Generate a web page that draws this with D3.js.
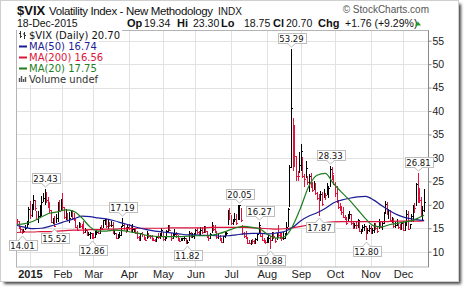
<!DOCTYPE html>
<html>
<head>
<meta charset="utf-8">
<script src="https://cdn.jsdelivr.net/npm/d3@7"></script>
<style>
  body { margin: 0; background: #fff; }
  svg { display: block; }
</style>
</head>
<body>
<div id="chart"></div>
<script>
// $VIX daily bars, 19-Dec-2014 .. 18-Dec-2015
var high = [
  // Dec 2014
  17.0,16.6,15.4,14.9,14.9,15.6,16.5,19.5,
  // Jan
  20.9,20.1,22.0,21.1,18.7,18.7,20.0,21.9,22.5,23.43,22.8,21.7,20.5,19.0,17.2,17.7,18.0,20.5,21.1,21.3,
  // Feb
  22.5,19.6,19.2,18.3,18.4,19.0,18.8,18.3,16.8,15.6,16.4,16.1,16.0,16.6,15.0,14.6,14.1,14.2,14.0,
  // Mar
  13.9,14.4,14.6,14.4,15.3,15.6,16.8,17.0,16.7,17.0,16.3,16.5,16.3,14.6,14.0,13.7,14.1,15.5,17.19,16.2,15.2,15.6,
  // Apr
  16.0,15.5,16.0,15.0,14.9,14.4,13.3,14.0,14.3,13.6,13.2,14.4,13.9,13.5,13.5,13.0,12.7,13.4,13.9,13.9,15.1,
  // May
  14.3,13.2,14.6,15.7,15.8,14.0,13.9,14.8,14.1,13.6,12.9,13.0,13.0,13.3,12.9,12.5,14.4,14.1,13.9,13.9,
  // Jun
  14.9,15.0,14.4,15.2,15.3,15.4,15.5,14.5,13.4,14.0,16.3,15.6,15.6,14.4,14.0,13.5,12.9,13.3,14.3,14.3,18.9,19.3,
  // Jul
  17.9,17.0,18.2,18.0,20.0,20.05,19.4,15.6,14.2,14.4,12.9,12.5,12.4,12.7,12.6,13.0,14.0,16.27,15.3,13.8,13.0,12.6,
  // Aug
  13.2,13.5,13.3,14.2,14.3,13.0,14.0,15.6,13.9,13.9,14.2,14.0,16.4,19.3,28.4,53.29,38.5,37.0,30.5,27.3,31.3,
  // Sep
  33.0,30.3,26.6,29.4,26.1,26.5,26.7,24.8,25.0,24.6,22.8,22.2,23.0,22.7,23.3,22.6,24.6,24.0,28.33,28.0,26.3,
  // Oct
  24.8,24.1,21.0,20.4,19.7,19.5,17.9,17.3,18.1,18.7,18.1,16.3,16.1,16.4,16.9,16.6,14.8,15.6,15.9,15.5,15.1,15.6,
  // Nov
  15.4,15.0,16.2,16.1,15.5,17.0,16.6,16.4,18.5,20.8,20.6,19.2,19.0,17.3,17.2,16.3,17.0,16.1,16.0,16.4,
  // Dec
  16.6,16.3,18.8,18.6,16.0,18.0,20.0,20.3,24.6,26.81,23.5,21.6,19.7,23.30
];
var low = [
  15.9,15.0,14.3,14.01,14.2,14.8,15.3,15.9,
  17.1,17.6,19.2,19.0,16.9,16.3,17.4,17.9,20.9,20.2,20.5,19.5,18.4,16.3,16.2,15.52,16.4,16.6,18.6,18.8,
  18.9,17.1,17.0,16.7,16.4,17.6,17.0,16.8,15.3,14.6,15.2,15.2,15.1,14.0,14.3,13.6,13.5,13.0,12.86,
  13.0,13.2,13.8,13.9,13.9,14.8,15.3,15.9,15.3,15.1,15.4,15.5,13.9,13.7,12.9,12.9,13.1,13.6,15.4,14.9,14.3,14.4,
  14.9,14.5,14.3,14.2,13.9,13.0,12.5,12.6,13.4,12.8,12.5,13.0,13.1,12.9,12.6,12.4,12.2,12.3,12.9,12.9,13.4,
  12.6,12.4,12.9,14.1,14.6,12.6,12.9,13.6,13.2,12.6,12.3,12.6,12.4,12.4,11.9,11.82,12.6,13.2,13.1,13.0,
  13.7,14.0,13.5,13.7,14.0,14.3,14.3,13.1,12.6,13.0,14.3,14.6,14.2,13.0,13.0,12.6,12.0,12.1,13.1,13.6,15.9,16.9,
  16.0,15.9,16.5,15.9,17.0,17.0,16.6,13.7,13.2,12.9,11.9,11.8,11.7,11.9,11.9,11.9,12.5,13.9,13.4,12.4,12.1,11.8,
  12.0,12.1,10.88,12.4,13.0,12.1,12.8,13.2,13.0,12.6,12.8,12.9,14.0,15.5,19.7,28.0,27.4,28.3,25.3,25.3,26.9,
  27.5,25.9,24.0,25.9,24.4,23.0,23.8,23.0,23.3,22.3,21.2,17.87,21.1,20.0,21.6,21.3,22.4,21.7,24.0,25.6,24.4,
  21.9,20.6,19.3,19.0,18.0,17.3,16.9,16.0,16.5,17.2,16.0,15.0,15.2,15.1,15.3,14.4,13.9,14.6,14.7,12.80,14.0,14.4,
  13.9,13.9,14.3,14.9,14.2,15.0,15.2,14.9,16.2,18.3,18.0,17.2,16.8,16.3,15.3,15.3,15.6,15.0,14.8,14.9,
  14.6,14.6,15.8,14.8,15.0,16.5,16.5,18.5,20.0,20.5,20.7,17.6,17.0,18.75
];
var close = [
  16.49,15.25,14.80,14.37,14.50,15.06,16.33,19.20,
  17.79,19.92,21.12,19.31,17.01,17.55,19.60,20.56,21.48,22.39,20.95,19.89,18.85,16.40,16.66,15.52,17.22,20.44,18.76,20.97,
  19.43,17.33,18.33,16.85,17.29,18.55,17.23,16.96,15.34,14.69,15.80,15.45,15.29,14.30,14.56,13.69,13.84,13.91,13.34,
  13.04,13.86,14.23,14.04,15.20,15.06,16.69,16.87,15.42,16.00,15.61,15.66,13.97,14.07,13.02,13.41,13.62,15.44,15.80,15.07,14.51,15.29,
  15.11,14.67,14.74,14.78,13.98,13.09,12.58,13.94,13.67,12.84,12.60,13.89,13.30,13.25,12.71,12.48,12.29,13.12,13.03,13.39,14.55,
  12.70,12.85,14.31,15.15,14.71,12.86,13.85,13.86,13.76,12.74,12.38,12.73,12.85,12.88,12.11,12.13,14.06,13.27,13.31,13.84,
  14.73,14.24,13.66,14.71,14.21,15.29,14.47,13.22,12.85,13.78,15.39,14.81,14.50,13.19,13.96,12.74,12.11,13.26,14.01,14.02,18.85,18.23,
  16.09,16.79,17.01,16.09,19.66,19.97,16.83,13.90,13.37,13.23,11.95,11.95,12.25,12.22,12.12,12.64,13.74,15.60,13.44,12.50,12.13,12.12,
  12.56,13.00,12.51,13.77,13.39,12.23,13.71,13.61,13.49,12.83,13.02,13.79,15.25,19.14,28.03,40.74,36.02,30.32,26.10,26.05,28.43,
  31.40,26.09,25.61,27.80,24.90,26.23,24.37,23.20,24.25,22.54,21.35,21.14,22.28,20.14,22.44,22.13,23.47,23.62,27.63,26.83,24.50,
  22.55,20.94,19.54,19.40,18.40,17.42,17.08,16.17,17.67,18.03,16.05,15.05,15.75,15.75,16.70,14.45,14.46,15.29,15.43,14.33,14.61,15.07,
  14.15,14.54,15.51,15.05,14.33,16.52,15.29,16.06,18.37,20.08,18.16,18.84,16.85,16.99,15.47,15.62,15.93,15.19,15.12,16.13,
  14.67,15.91,18.11,14.81,15.84,17.60,19.61,19.34,24.39,22.73,20.95,17.86,18.94,20.70
];

// moving averages, read every 5th trading day (last value = 18-Dec)
var ma50 = [15.6,15.2,14.9,15.0,15.4,15.9,16.5,17.0,17.6,17.5,17.2,17.0,16.6,16.1,15.6,15.1,14.7,14.4,14.2,14.0,
  13.8,13.6,13.6,13.5,13.5,13.3,13.4,13.6,13.8,13.9,13.9,13.8,14.0,14.3,15.2,16.6,17.6,18.3,19.2,20.4,
  21.0,21.4,21.7,21.8,21.0,19.8,18.7,17.8,17.2,16.9,16.7,16.74];
var ma200 = [14.1,14.2,14.2,14.3,14.3,14.4,14.5,14.6,14.6,14.7,14.7,14.8,14.8,14.9,14.9,15.0,15.0,15.0,15.0,15.1,
  15.1,15.1,15.1,15.1,15.2,15.2,15.2,15.2,15.2,15.1,15.0,14.9,14.8,14.9,15.1,15.4,15.7,16.0,16.2,16.35,
  16.4,16.4,16.4,16.4,16.4,16.4,16.45,16.5,16.5,16.5,16.55,16.56];
var ma20 = [15.8,16.0,16.5,17.4,18.2,18.5,18.9,18.6,17.2,15.3,14.4,14.4,14.6,14.5,14.2,13.9,13.5,13.3,13.2,13.2,
  13.2,13.3,13.4,13.4,13.5,13.9,14.5,15.1,15.4,15.2,14.8,13.6,12.9,13.2,15.5,19.5,24.0,26.3,26.7,24.6,
  22.7,21.0,19.0,17.0,15.5,15.3,15.8,16.1,16.4,16.8,17.6,17.75];

// marked highs and lows
var callouts = [
  ["2014-12-24", 14.01, "low"],
  ["2015-01-15", 23.43, "high"],
  ["2015-01-26", 15.52, "low"],
  ["2015-02-27", 12.86, "low"],
  ["2015-03-26", 17.19, "high"],
  ["2015-05-22", 11.82, "low"],
  ["2015-07-09", 20.05, "high"],
  ["2015-07-27", 16.27, "high"],
  ["2015-08-05", 10.88, "low"],
  ["2015-08-24", 53.29, "high"],
  ["2015-09-17", 17.87, "low"],
  ["2015-09-28", 28.33, "high"],
  ["2015-10-28", 12.80, "low"],
  ["2015-12-14", 26.81, "high"]
];

var yTicks = [10, 15, 20, 25, 30, 35, 40, 45, 50, 55];
var monthNames = ["2015","Feb","Mar","Apr","May","Jun","Jul","Aug","Sep","Oct","Nov","Dec"];

// trading calendar
var holidays = ["2014-12-25","2015-01-01","2015-01-19","2015-02-16","2015-04-03","2015-05-25","2015-07-03","2015-09-07","2015-11-26"];
var fmt = d3.timeFormat("%Y-%m-%d");
var days = d3.timeDay.range(new Date(2014, 11, 19), new Date(2015, 11, 19))
  .filter(function(d) { return d.getDay() > 0 && d.getDay() < 6 && holidays.indexOf(fmt(d)) < 0; })
  .map(fmt);

var monthStarts = [];
days.forEach(function(d, i) {
  if (d >= "2015-01" && (i === 0 || d.slice(0, 7) !== days[i - 1].slice(0, 7))) monthStarts.push(d);
});

var plot = {left: 16, right: 428, top: 30.5, bottom: 267};

var x = d3.scalePoint().domain(days).range([17, 424.1]);
var y = d3.scaleLinear().domain([10, 55]).range([251.7, 40.7]);

var svg = d3.select("#chart").append("svg")
  .attr("width", 464)
  .attr("height", 288)
  .style("font-family", "'Liberation Sans', Arial, sans-serif");

// frame with drop shadow
var defs = svg.append("defs");
defs.append("filter").attr("id", "blur")
  .attr("x", "-5%").attr("y", "-5%").attr("width", "110%").attr("height", "110%")
  .append("feGaussianBlur").attr("stdDeviation", 1.6);
svg.append("rect").attr("x", 4).attr("y", 4).attr("width", 457).attr("height", 280)
  .attr("fill", "#444").attr("filter", "url(#blur)");
svg.append("rect").attr("x", 0.5).attr("y", 0.5).attr("width", 458).attr("height", 281)
  .attr("fill", "#fff").attr("stroke", "#cfcfcf");

// grid
var grid = svg.append("g");
grid.selectAll(".hg").data(yTicks).enter().append("line")
  .attr("x1", plot.left).attr("x2", plot.right)
  .attr("y1", function(d) { return Math.round(y(d)) + 0.5; })
  .attr("y2", function(d) { return Math.round(y(d)) + 0.5; })
  .attr("stroke", "#e2e2e2");
grid.selectAll(".vg").data(monthStarts).enter().append("line")
  .attr("x1", function(d) { return Math.round(x(d)) + 0.5; })
  .attr("x2", function(d) { return Math.round(x(d)) + 0.5; })
  .attr("y1", plot.top).attr("y2", plot.bottom)
  .attr("stroke", "#e2e2e2");

svg.append("rect")
  .attr("x", plot.left + 0.5).attr("y", plot.top)
  .attr("width", plot.right - plot.left).attr("height", plot.bottom - plot.top)
  .attr("fill", "none").attr("stroke", "#b4b4b4");

// price bars
var bars = svg.append("g").attr("shape-rendering", "crispEdges");
bars.selectAll("path").data(days).enter().append("path")
  .attr("d", function(d, i) {
    var px = Math.round(x(d)) + 0.5;
    var yc = Math.round(y(close[i])) + 0.5;
    return "M" + px + "," + Math.round(y(high[i])) + "V" + Math.round(y(low[i]) + 1) +
      "M" + px + "," + yc + "H" + (px + 1.5);
  })
  .attr("fill", "none")
  .attr("stroke", function(d, i) { return i > 0 && close[i] > close[i - 1] ? "#000" : "#dc143c"; })
  .attr("stroke-width", 1);

// moving averages
function maPoints(arr) {
  return arr.map(function(v, k) { return [days[Math.min(k * 5, days.length - 1)], v]; });
}
var maLine = d3.line()
  .x(function(p) { return x(p[0]); })
  .y(function(p) { return y(p[1]); })
  .curve(d3.curveMonotoneX);
[[ma200, "#dc143c"], [ma50, "#1c1c96"], [ma20, "#1e7d1e"]].forEach(function(m) {
  svg.append("path").datum(maPoints(m[0]))
    .attr("d", maLine)
    .attr("fill", "none")
    .attr("stroke", m[1])
    .attr("stroke-width", 1.2);
});

// right axis
var axisG = svg.append("g").attr("transform", "translate(" + (plot.right + 0.5) + ",0)");
axisG.call(d3.axisRight(y).tickValues(d3.range(7, 58)).tickSize(2).tickFormat(""));
axisG.call(d3.axisRight(y).tickValues(yTicks).tickSize(3).tickPadding(1));
axisG.select(".domain").remove();
axisG.selectAll("line").attr("stroke", "#888");
axisG.selectAll("text")
  .attr("font-family", "'Liberation Sans', Arial, sans-serif")
  .attr("font-size", "10.5px")
  .attr("fill", "#222");
svg.append("line")
  .attr("x1", plot.right + 0.5).attr("x2", plot.right + 0.5)
  .attr("y1", plot.top).attr("y2", plot.bottom)
  .attr("stroke", "#888");

// bottom axis labels
var xAxis = svg.append("g").attr("transform", "translate(0," + plot.bottom + ")");
xAxis.call(d3.axisBottom(x).tickValues(monthStarts).tickSize(0).tickPadding(3)
  .tickFormat(function(d, i) { return monthNames[i]; }));
xAxis.select(".domain").remove();
xAxis.selectAll("text")
  .attr("font-family", "'Liberation Sans', Arial, sans-serif")
  .attr("font-size", "11px")
  .attr("fill", "#222")
  .attr("font-weight", function(d, i) { return i === 0 ? "bold" : "normal"; });

// high / low callouts
callouts.forEach(function(c) {
  var cx = Math.round(x(c[0])) + 0.5;
  var vy = y(c[1]);
  var g = svg.append("g");
  var t = g.append("text")
    .attr("x", cx)
    .attr("text-anchor", "middle")
    .attr("font-family", "'DejaVu Sans', Verdana, sans-serif")
    .attr("font-size", "8.5px")
    .attr("fill", "#111")
    .text(c[1].toFixed(2));
  var bw = Math.round(t.node().getComputedTextLength() + 4), bh = 10;
  var tip, edge, top;
  if (c[2] === "high") {
    tip = Math.round(vy) - 2; edge = tip - 4; top = edge - bh;
  } else {
    tip = Math.round(vy) + 3; edge = tip + 4; top = edge;
  }
  g.insert("rect", "text")
    .attr("x", Math.round(cx - bw / 2) + 0.5).attr("y", top + 0.5)
    .attr("width", bw).attr("height", bh)
    .attr("fill", "#fff").attr("stroke", "#bdbdbd");
  var e2 = edge + 0.5;
  g.insert("path", "text")
    .attr("d", "M" + (cx - 4) + "," + e2 + "L" + cx + "," + tip + "L" + (cx + 4) + "," + e2)
    .attr("fill", "#fff").attr("stroke", "#bdbdbd");
  g.insert("line", "text")
    .attr("x1", cx - 3).attr("x2", cx + 3).attr("y1", e2).attr("y2", e2)
    .attr("stroke", "#fff").attr("stroke-width", 1.2);
  t.attr("y", top + 8.5);
});

// legend
var legendRows = [
  {label: "$VIX (Daily) 20.70", color: "#111", icon: "ohlc"},
  {label: "MA(50) 16.74", color: "#1c1c96", icon: "dash"},
  {label: "MA(200) 16.56", color: "#dc143c", icon: "dash"},
  {label: "MA(20) 17.75", color: "#1e7d1e", icon: "dash"},
  {label: "Volume undef", color: "#333", icon: "vol"}
];
var legend = svg.append("g");
legendRows.forEach(function(r, i) {
  var base = 39 + i * 11;
  var g = legend.append("g");
  var t = g.append("text")
    .attr("x", 29).attr("y", base)
    .attr("font-family", "'DejaVu Sans', Verdana, sans-serif")
    .attr("font-size", "10px")
    .attr("fill", r.color)
    .text(r.label);
  var w = t.node().getComputedTextLength();
  g.insert("rect", "text")
    .attr("x", plot.left + 1).attr("y", base - 9)
    .attr("width", 29 + w + 1 - plot.left).attr("height", 11)
    .attr("fill", "#fff");
  if (r.icon === "dash") {
    g.append("line").attr("x1", 19).attr("x2", 27).attr("y1", base - 3.5).attr("y2", base - 3.5)
      .attr("stroke", r.color).attr("stroke-width", 2);
  } else if (r.icon === "ohlc") {
    g.append("path").attr("d", "M20.5,31V38M19,33.5H20.5M20.5,36.5H22M24.5,32V39M23,34H24.5M24.5,35.5H26")
      .attr("stroke", "#333").attr("fill", "none");
  } else {
    g.append("path").attr("d", "M19.5," + (base - 1) + "V" + (base - 5) + "M21.5," + (base - 1) + "V" + (base - 7) +
      "M23.5," + (base - 1) + "V" + (base - 4) + "M25.5," + (base - 1) + "V" + (base - 6))
      .attr("stroke", "#555").attr("stroke-width", 1.4).attr("fill", "none");
  }
});

// header
var head = svg.append("g").attr("fill", "#111");
head.append("text").attr("x", 17).attr("y", 15).attr("font-size", "13px").attr("font-weight", "bold").text("$VIX");
head.append("text").attr("x", 49).attr("y", 15).attr("font-size", "11.5px")
  .attr("textLength", 164).text("Volatility Index - New Methodology");
head.append("text").attr("x", 218).attr("y", 15).attr("font-size", "10px").text("INDX");
head.append("text").attr("x", 429).attr("y", 13).attr("font-size", "10px").attr("text-anchor", "end")
  .attr("fill", "#555").text("\u00a9 StockCharts.com");

var quote = [
  [17, "18-Dec-2015", false],
  [127, "Op", true], [144, "19.34", false],
  [177, "Hi", true], [193, "23.30", false],
  [221, "Lo", true], [244, "18.75", false],
  [273, "Cl", true], [286, "20.70", false],
  [318, "Chg", true], [345, "+1.76 (+9.29%)", false]
];
head.selectAll(".q").data(quote).enter().append("text")
  .attr("x", function(d) { return d[0]; })
  .attr("y", 27)
  .attr("font-size", function(d) { return d[2] ? "11px" : "10.5px"; })
  .attr("font-weight", function(d) { return d[2] ? "bold" : "normal"; })
  .text(function(d) { return d[1]; });
head.append("path").attr("d", "M415,25.5L418,21.5L421,25.5Z").attr("fill", "#1e9e1e");
</script>
</body>
</html>
